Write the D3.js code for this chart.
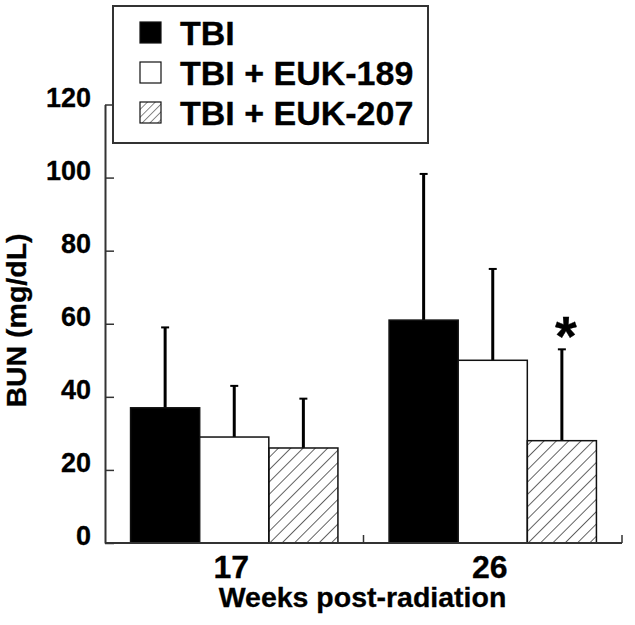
<!DOCTYPE html>
<html><head><meta charset="utf-8">
<script src="https://cdn.jsdelivr.net/npm/d3@7"></script>
<style>body{margin:0;background:#fff}svg{display:block}text{font-family:"Liberation Sans",Arial,sans-serif;font-weight:bold;fill:#000;stroke:#000;stroke-width:0.3px}</style>
</head><body><svg id="c" width="635" height="625"></svg>
<script>
const categories = ["17", "26"];
const series = ["TBI", "TBI + EUK-189", "TBI + EUK-207"];
const means = [[37, 61], [29, 50], [26, 28]];
const errors = [[59, 101], [43, 75], [39.5, 53]];
const yTicks = [0, 20, 40, 60, 80, 100, 120];
const significant = [[false, false], [false, false], [false, true]];

const svg = d3.select("#c");
const m = {l:105, r:622, t:104.5, b:543};
const x0 = d3.scaleBand().domain(categories).range([m.l, m.r]).paddingInner(0).paddingOuter(0);
const x1 = d3.scaleBand().domain(series).range([0, x0.bandwidth()]).paddingOuter(0.37).paddingInner(0);
const y = d3.scaleLinear().domain([0, 120]).range([m.b, m.t]);

const defs = svg.append("defs");
function hatch(id, w, sw) {
  const p = defs.append("pattern").attr("id",id).attr("patternUnits","userSpaceOnUse")
    .attr("width",w).attr("height",w).attr("patternTransform","rotate(45)");
  p.append("line").attr("x1",0).attr("y1",0).attr("x2",0).attr("y2",w).attr("stroke","#111").attr("stroke-width",sw);
}
hatch("hatch", 8.7, 1.3);
hatch("hatch2", 5.5, 1);
const fills = ["#000", "#fff", "url(#hatch)"];

// bars
series.forEach((s, si) => {
  categories.forEach((c, ci) => {
    const bx = x0(c) + x1(s), bw = x1.bandwidth();
    const cx = bx + bw/2;
    svg.append("line").attr("x1",cx).attr("x2",cx).attr("y1",y(means[si][ci])).attr("y2",y(errors[si][ci]))
      .attr("stroke","#000").attr("stroke-width",3);
    svg.append("line").attr("x1",cx-4).attr("x2",cx+4).attr("y1",y(errors[si][ci])).attr("y2",y(errors[si][ci]))
      .attr("stroke","#000").attr("stroke-width",2);
    svg.append("rect").attr("x",bx).attr("y",y(means[si][ci])).attr("width",bw).attr("height",y(0)-y(means[si][ci]))
      .attr("fill",fills[si]).attr("stroke","#111").attr("stroke-width",1.5);
    if (significant[si][ci]) {
      svg.append("text").attr("x",cx+4).attr("y",y(errors[si][ci])+6).attr("text-anchor","middle")
        .style("font-size","56px").text("*");
    }
  });
});

// y axis
const yAxis = d3.axisLeft(y).tickValues(yTicks).tickSizeInner(-9).tickSizeOuter(0).tickPadding(14);
const ga = svg.append("g").attr("transform",`translate(${m.l},0)`).call(yAxis);
ga.select(".domain").attr("stroke","#333").attr("stroke-width",2);
ga.selectAll(".tick line").attr("stroke","#333").attr("stroke-width",1.5);
ga.selectAll(".tick text").style("font-size","27px").attr("fill","#000").attr("dy","0.06em");

// x axis
const gx = svg.append("g").attr("transform",`translate(0,${m.b})`);
gx.append("line").attr("x1",m.l).attr("x2",m.r).attr("y1",0).attr("y2",0).attr("stroke","#333").attr("stroke-width",2);
gx.append("line").attr("x1",x0(categories[1])).attr("x2",x0(categories[1])).attr("y1",0).attr("y2",-8).attr("stroke","#333").attr("stroke-width",1.5);
gx.append("line").attr("x1",m.r).attr("x2",m.r).attr("y1",0).attr("y2",-8).attr("stroke","#333").attr("stroke-width",1.5);
categories.forEach(c => gx.append("text").attr("x",x0(c)+x0.bandwidth()/2-3).attr("y",34.5).attr("text-anchor","middle").style("font-size","32px").text(c));

svg.append("text").attr("x",362.5).attr("y",607).attr("text-anchor","middle").style("font-size","28.5px").text("Weeks post-radiation");
svg.append("text").attr("transform","translate(26,320.5) rotate(-90)").attr("text-anchor","middle").style("font-size","28.5px").text("BUN (mg/dL)");

// legend
const lg = svg.append("g");
lg.append("rect").attr("x",113).attr("y",6).attr("width",315).attr("height",137).attr("fill","#fff").attr("stroke","#333").attr("stroke-width",2);
const lfills = ["#000", "#fff", "url(#hatch2)"];
series.forEach((s, i) => {
  const yy = 22 + i*40;
  lg.append("rect").attr("x",140).attr("y",yy).attr("width",21).attr("height",21).attr("fill",lfills[i]).attr("stroke","#111").attr("stroke-width",1.2);
  lg.append("text").attr("x",180).attr("y",yy+23).style("font-size","34px").text(s);
});
</script></body></html>
